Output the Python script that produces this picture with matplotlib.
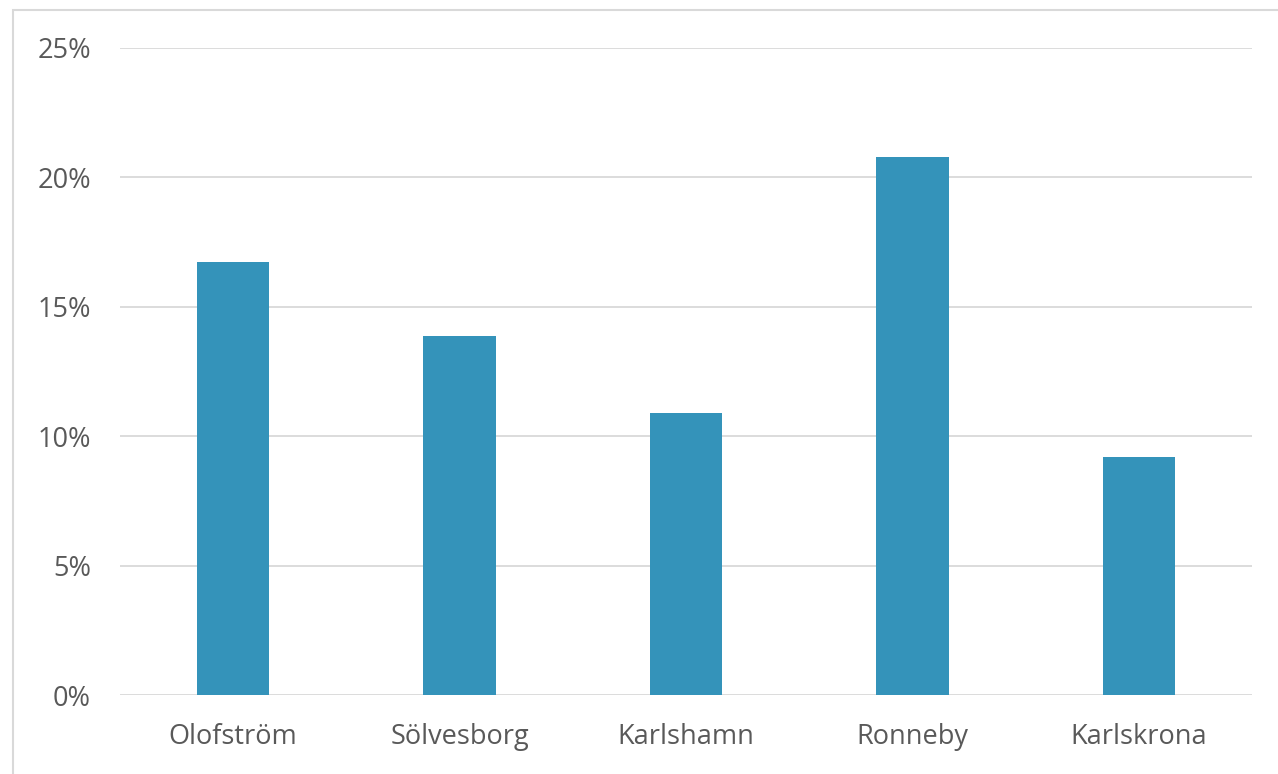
import matplotlib
matplotlib.use("Agg")
import matplotlib.pyplot as plt
from matplotlib.ticker import FuncFormatter
from matplotlib.patches import Rectangle

categories = ["Olofström", "Sölvesborg", "Karlshamn", "Ronneby", "Karlskrona"]
values = [0.1675, 0.1387, 0.1090, 0.2078, 0.0920]
yticks = [0, 0.05, 0.10, 0.15, 0.20, 0.25]

plt.rcParams['font.family'] = ['Open Sans', 'DejaVu Sans']
text_color = "#595959"
grid_color = "#d9d9d9"
bar_color = "#3493BA"

fig = plt.figure(figsize=(12.78, 7.74), dpi=100)
fig.patch.set_facecolor("white")
# outer chart frame (partially cropped in reference)
fig.patches.append(Rectangle((13/1278, -0.1), 1.2, 1 - 10/774 + 0.1, transform=fig.transFigure,
                             fill=False, edgecolor=grid_color, linewidth=1.5, zorder=0))

ax = fig.add_axes([120/1278, 1 - 695/774, 1132/1278, (695 - 48)/774])
x = range(len(categories))
ax.bar(x, values, width=0.32, color=bar_color, zorder=3)
ax.set_xlim(-0.5, len(categories) - 0.5)
ax.set_ylim(0, 0.25)
ax.set_yticks(yticks)
ax.yaxis.set_major_formatter(FuncFormatter(lambda v, p: f"{v*100:.0f}%"))
ax.set_xticks(list(x))
ax.set_xticklabels(categories)
ax.grid(axis="y", color=grid_color, linewidth=1.3, zorder=0)
for s in ax.spines.values():
    s.set_visible(False)
ax.tick_params(axis="both", length=0, colors=text_color, labelsize=19.5)
ax.tick_params(axis="y", pad=21)
ax.tick_params(axis="x", pad=20)

fig.savefig("out.png", dpi=100)
